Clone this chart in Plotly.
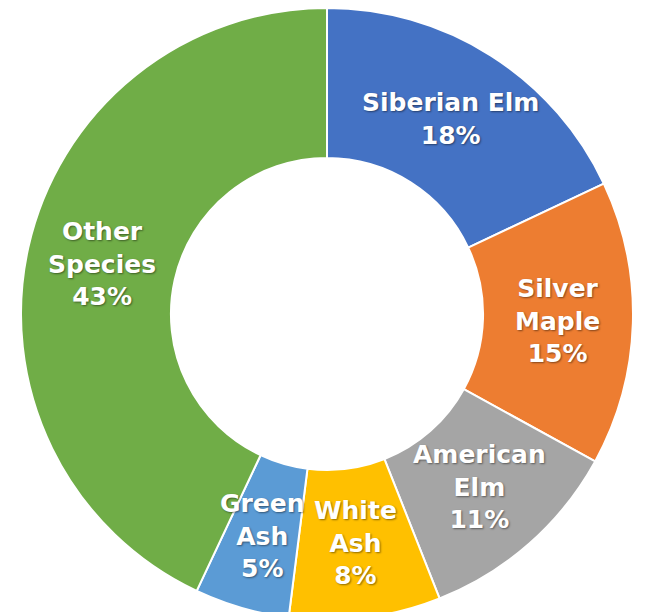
import math
import plotly.graph_objects as go

species = ["Siberian Elm", "Silver Maple", "American Elm", "White Ash", "Green Ash", "Other Species"]
label_lines = ["Siberian Elm", "Silver<br>Maple", "American<br>Elm", "White<br>Ash", "Green<br>Ash", "Other<br>Species"]
shares = [18, 15, 11, 8, 5, 43]
colors = ["#4472C4", "#ED7D31", "#A5A5A5", "#FFC000", "#5B9BD5", "#70AD47"]

W, H = 646, 612
M_L, M_R, M_T, M_B = 0, 8, 0, 0
HOLE = 0.51
LABEL_R = 231  # px from the centre, mid-ring

fig = go.Figure(go.Pie(
    labels=species,
    values=shares,
    textinfo="none",
    sort=False,
    direction="clockwise",
    rotation=0,
    hole=HOLE,
    marker=dict(colors=colors, line=dict(color="white", width=2)),
    showlegend=False,
))

# labels placed at the middle angle of each slice, derived from the values
plot_w = W - M_L - M_R
plot_h = H - M_T - M_B
total = sum(shares)
cum = 0
for txt, v in zip(label_lines, shares):
    mid = (cum + v / 2) / total * 2 * math.pi
    cum += v
    x = 0.5 + LABEL_R * math.sin(mid) / plot_w
    y = 0.5 + LABEL_R * math.cos(mid) / plot_h
    fig.add_annotation(
        x=x, y=y, xref="paper", yref="paper",
        text=f"{txt}<br>{round(v / total * 100)}%",
        showarrow=False, xanchor="center", yanchor="middle",
        font=dict(family="DejaVu Sans", size=25, color="white", weight="bold",
                  shadow="1px 1px 2px rgba(0,0,0,0.45)"),
    )

fig.update_layout(
    width=W, height=H,
    margin=dict(l=M_L, r=M_R, t=M_T, b=M_B),
    paper_bgcolor="white",
)

fig.write_html("out.html")
